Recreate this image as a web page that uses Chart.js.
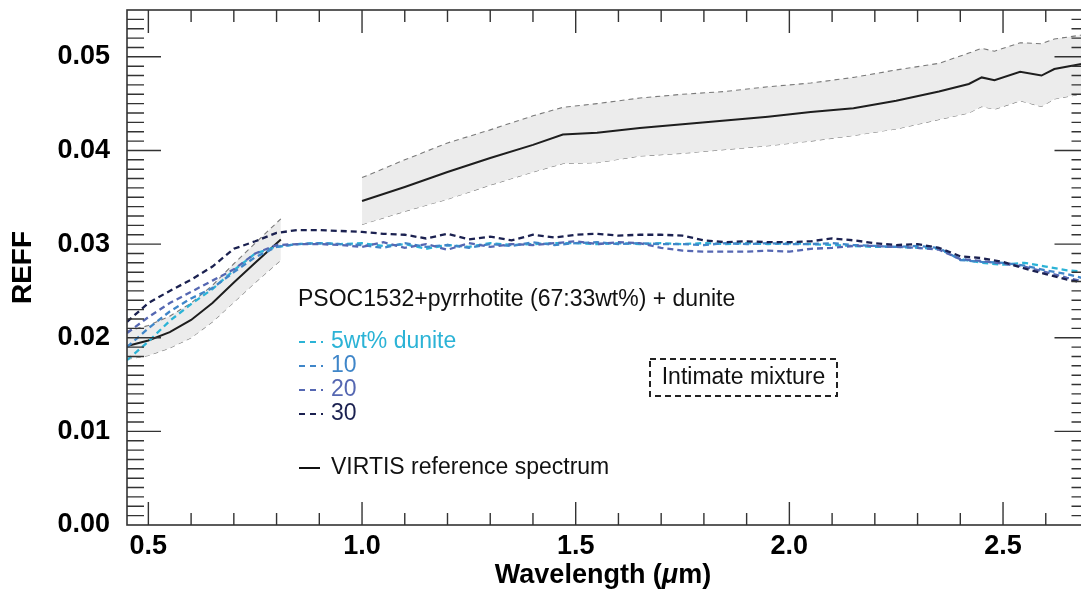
<!DOCTYPE html>
<html>
<head>
<meta charset="utf-8">
<script src="https://cdn.jsdelivr.net/npm/chart.js@4.4.1/dist/chart.umd.min.js"></script>
<style>
  html, body { margin: 0; padding: 0; background: #fff; overflow: hidden; }
  #wrap { width: 1090px; height: 591px; }
</style>
</head>
<body>
<div id="wrap"><canvas id="reffChart" width="1090" height="591"></canvas></div>
<script>
// mixture spectra (PSOC1532 + pyrrhotite + dunite), wavelength in micron
const mixWave = [0.45, 0.50, 0.55, 0.60, 0.65, 0.70, 0.75, 0.80, 0.85, 0.90, 0.95, 1.00,
  1.05, 1.10, 1.15, 1.20, 1.25, 1.30, 1.35, 1.40, 1.45, 1.50, 1.55, 1.60, 1.65, 1.70,
  1.75, 1.80, 1.85, 1.90, 1.95, 2.00, 2.05, 2.10, 2.15, 2.20, 2.25, 2.30, 2.35, 2.40,
  2.45, 2.50, 2.55, 2.60, 2.65, 2.70];

const dunite5 = [0.0176, 0.0196, 0.0218, 0.0236, 0.0252, 0.0272, 0.0290, 0.0297, 0.0300, 0.0301,
  0.0300, 0.0301, 0.0298, 0.0300, 0.0295, 0.0299, 0.0297, 0.0301, 0.0299, 0.0300, 0.0301,
  0.0301, 0.0300, 0.0301, 0.0300, 0.0301, 0.0300, 0.0301, 0.0300, 0.0301, 0.0300, 0.0301,
  0.0300, 0.0299, 0.0298, 0.0297, 0.0297, 0.0296, 0.0295, 0.0284, 0.0280, 0.0278, 0.0280,
  0.0276, 0.0272, 0.0270];
const dunite10 = [0.0190, 0.0210, 0.0228, 0.0242, 0.0253, 0.0270, 0.0286, 0.0297, 0.0300, 0.0301,
  0.0300, 0.0299, 0.0296, 0.0301, 0.0297, 0.0299, 0.0296, 0.0300, 0.0298, 0.0302, 0.0299,
  0.0301, 0.0302, 0.0300, 0.0301, 0.0300, 0.0300, 0.0299, 0.0301, 0.0300, 0.0301, 0.0300,
  0.0300, 0.0301, 0.0299, 0.0298, 0.0297, 0.0298, 0.0296, 0.0283, 0.0281, 0.0280, 0.0277,
  0.0272, 0.0268, 0.0262];
const dunite20 = [0.0205, 0.0222, 0.0237, 0.0249, 0.0261, 0.0273, 0.0290, 0.0299, 0.0300, 0.0300,
  0.0299, 0.0297, 0.0302, 0.0296, 0.0300, 0.0294, 0.0301, 0.0297, 0.0300, 0.0299, 0.0301,
  0.0303, 0.0300, 0.0302, 0.0301, 0.0296, 0.0293, 0.0292, 0.0292, 0.0292, 0.0293, 0.0292,
  0.0295, 0.0296, 0.0298, 0.0298, 0.0297, 0.0296, 0.0294, 0.0284, 0.0282, 0.0279, 0.0276,
  0.0270, 0.0264, 0.0259];
const dunite30 = [0.0217, 0.0237, 0.0250, 0.0262, 0.0276, 0.0295, 0.0303, 0.0312, 0.0315, 0.0315,
  0.0314, 0.0313, 0.0311, 0.0310, 0.0306, 0.0311, 0.0305, 0.0308, 0.0304, 0.0310, 0.0307,
  0.0310, 0.0311, 0.0309, 0.0310, 0.0310, 0.0309, 0.0304, 0.0302, 0.0303, 0.0302, 0.0302,
  0.0303, 0.0306, 0.0304, 0.0301, 0.0299, 0.0300, 0.0296, 0.0287, 0.0285, 0.0281, 0.0274,
  0.0268, 0.0262, 0.0258];

// VIRTIS reference spectrum, visible channel
const visWave = [0.45, 0.50, 0.55, 0.60, 0.65, 0.70, 0.75, 0.81];
const visRef = [0.0191, 0.0197, 0.0206, 0.0219, 0.0237, 0.0259, 0.0280, 0.0305];
const visHigh = [0.0207, 0.0213, 0.0223, 0.0237, 0.0256, 0.0279, 0.0301, 0.0327];
const visLow = [0.0177, 0.0181, 0.0189, 0.0200, 0.0217, 0.0238, 0.0259, 0.0283];

// VIRTIS reference spectrum, infrared channel
const irWave = [1.00, 1.10, 1.20, 1.30, 1.40, 1.47, 1.55, 1.65, 1.75, 1.85, 1.95, 2.05,
  2.15, 2.25, 2.35, 2.42, 2.45, 2.48, 2.54, 2.59, 2.62, 2.68, 2.70];
const irRef = [0.0346, 0.0361, 0.0377, 0.0392, 0.0406, 0.0417, 0.0419, 0.0424, 0.0428, 0.0432,
  0.0436, 0.0441, 0.0445, 0.0453, 0.0463, 0.0471, 0.0478, 0.0475, 0.0484, 0.0480, 0.0487,
  0.0492, 0.0493];
const irHigh = [0.0371, 0.0390, 0.0408, 0.0422, 0.0437, 0.0446, 0.0450, 0.0456, 0.0460, 0.0463,
  0.0468, 0.0472, 0.0478, 0.0486, 0.0493, 0.0504, 0.0509, 0.0506, 0.0515, 0.0514, 0.0519,
  0.0523, 0.0524];
const irLow = [0.0321, 0.0335, 0.0348, 0.0363, 0.0377, 0.0386, 0.0387, 0.0394, 0.0397, 0.0401,
  0.0405, 0.0410, 0.0416, 0.0423, 0.0433, 0.0440, 0.0447, 0.0444, 0.0453, 0.0447, 0.0455,
  0.0460, 0.0461];

const yTicks = [0.00, 0.01, 0.02, 0.03, 0.04, 0.05];
const xTicks = [0.5, 1.0, 1.5, 2.0, 2.5];

const FONT = '"Liberation Sans", Arial, Helvetica, sans-serif';
const mixColors = ['#2bb3d6', '#3f86c9', '#5567b2', '#1b2150'];

const pts = (xs, ys) => xs.map((x, i) => ({ x: x, y: ys[i] }));

function band(xs, ys, fill) {
  return {
    data: pts(xs, ys),
    borderColor: '#7a7a7a',
    borderWidth: 1.1,
    borderDash: [5, 4],
    backgroundColor: '#ececec',
    fill: fill,
    pointRadius: 0,
    order: 10
  };
}

function refLine(xs, ys) {
  return {
    data: pts(xs, ys),
    borderColor: '#1e1e1e',
    borderWidth: 2,
    pointRadius: 0,
    fill: false,
    order: 5
  };
}

function mixLine(ys, i) {
  return {
    data: pts(mixWave, ys),
    borderColor: mixColors[i],
    borderWidth: 2.3,
    borderDash: [6, 4],
    pointRadius: 0,
    fill: false,
    order: 4 - i
  };
}

// box ticks on all four sides, pointing inwards
const frameTicks = {
  id: 'frameTicks',
  afterDatasetsDraw(chart) {
    const { ctx, chartArea: a, scales: { x, y } } = chart;
    ctx.save();
    ctx.strokeStyle = '#333';
    ctx.lineWidth = 1.4;
    ctx.beginPath();
    for (let i = 5; i <= 26; i++) {
      const px = x.getPixelForValue(i / 10);
      const len = i % 5 === 0 ? 23 : 12;
      ctx.moveTo(px, a.bottom); ctx.lineTo(px, a.bottom - len);
      ctx.moveTo(px, a.top); ctx.lineTo(px, a.top + len);
    }
    for (let i = 1; i < 55; i++) {
      const py = y.getPixelForValue(i / 1000);
      const len = i % 10 === 0 ? 34 : 17;
      ctx.moveTo(a.left, py); ctx.lineTo(a.left + len, py);
      ctx.moveTo(a.right, py); ctx.lineTo(a.right - len, py);
    }
    ctx.stroke();
    ctx.lineWidth = 1.6;
    ctx.strokeRect(a.left, a.top, a.right - a.left, a.bottom - a.top);
    ctx.restore();
  },
  afterDraw(chart) {
    const { ctx } = chart;
    ctx.save();
    // x axis title with italic mu
    const parts = [
      ['bold 27px ' + FONT, 'Wavelength ('],
      ['italic bold 27px ' + FONT, 'μ'],
      ['bold 27px ' + FONT, 'm)']
    ];
    let total = 0;
    parts.forEach(p => { ctx.font = p[0]; total += ctx.measureText(p[1]).width; });
    let tx = 603 - total / 2;
    ctx.fillStyle = '#000';
    ctx.textBaseline = 'middle';
    parts.forEach(p => {
      ctx.font = p[0];
      ctx.fillText(p[1], tx, 576);
      tx += ctx.measureText(p[1]).width;
    });

    // legend block
    ctx.font = '23px ' + FONT;
    ctx.fillStyle = '#111';
    ctx.fillText('PSOC1532+pyrrhotite (67:33wt%) + dunite', 298, 300);
    const labels = ['5wt% dunite', '10', '20', '30'];
    labels.forEach((t, i) => {
      const ly = 342 + i * 24;
      ctx.strokeStyle = mixColors[i];
      ctx.lineWidth = 2;
      ctx.setLineDash([6, 5]);
      ctx.beginPath(); ctx.moveTo(299, ly); ctx.lineTo(323, ly); ctx.stroke();
      ctx.fillStyle = mixColors[i];
      ctx.fillText(t, 331, ly);
    });
    ctx.setLineDash([]);
    ctx.strokeStyle = '#111';
    ctx.beginPath(); ctx.moveTo(299, 468); ctx.lineTo(320, 468); ctx.stroke();
    ctx.fillStyle = '#111';
    ctx.fillText('VIRTIS reference spectrum', 331, 468);

    // dashed annotation box
    ctx.strokeStyle = '#222';
    ctx.lineWidth = 2;
    ctx.setLineDash([6, 4]);
    ctx.strokeRect(650, 359, 187, 37);
    ctx.setLineDash([]);
    ctx.textAlign = 'center';
    ctx.fillStyle = '#111';
    ctx.fillText('Intimate mixture', 743.5, 378);
    ctx.restore();
  }
};

new Chart(document.getElementById('reffChart'), {
  type: 'line',
  data: {
    datasets: [
      band(visWave, visHigh, '+1'),
      band(visWave, visLow, false),
      band(irWave, irHigh, '+1'),
      band(irWave, irLow, false),
      refLine(visWave, visRef),
      refLine(irWave, irRef),
      mixLine(dunite5, 0),
      mixLine(dunite10, 1),
      mixLine(dunite20, 2),
      mixLine(dunite30, 3)
    ]
  },
  options: {
    responsive: false,
    animation: false,
    layout: { padding: { top: 10, right: 1.5, left: 0, bottom: 0 } },
    plugins: { legend: { display: false }, tooltip: { enabled: false } },
    scales: {
      x: {
        type: 'linear',
        min: 0.45,
        max: 2.7,
        afterFit: s => { s.height = 66; s.paddingLeft = 0; s.paddingRight = 0; },
        afterBuildTicks: s => { s.ticks = xTicks.map(v => ({ value: v })); },
        grid: { display: false, drawTicks: false },
        border: { display: false },
        ticks: {
          padding: 5,
          color: '#000',
          font: { family: FONT, size: 27, weight: 'bold' },
          callback: v => v.toFixed(1)
        }
      },
      y: {
        type: 'linear',
        min: 0,
        max: 0.055,
        afterFit: s => { s.width = 127; s.paddingTop = 0; s.paddingBottom = 0; },
        afterBuildTicks: s => { s.ticks = yTicks.map(v => ({ value: v })); },
        grid: { display: false, drawTicks: false },
        border: { display: false },
        ticks: {
          padding: 17,
          color: '#000',
          font: { family: FONT, size: 27, weight: 'bold' },
          callback: v => v.toFixed(2)
        },
        title: {
          display: true,
          text: 'REFF',
          color: '#000',
          padding: { top: 6, bottom: 0 },
          font: { family: FONT, size: 28, weight: 'bold' }
        }
      }
    }
  },
  plugins: [frameTicks]
});
</script>
</body>
</html>
